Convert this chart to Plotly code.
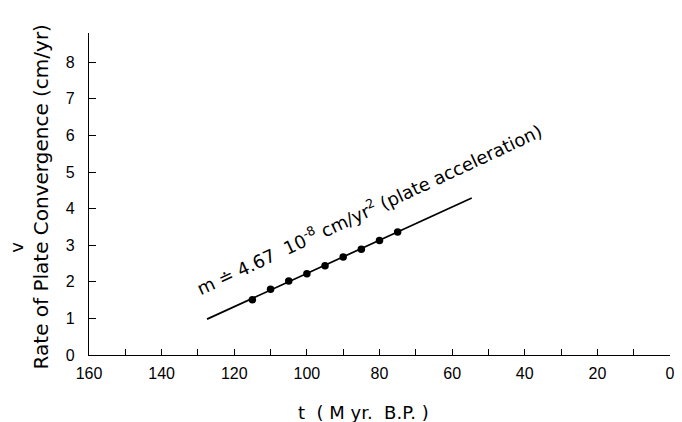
import plotly.graph_objects as go

# Data
t_points = [115, 110, 105, 100, 95, 90, 85, 80, 75]
v_points = [1.51, 1.80, 2.02, 2.22, 2.44, 2.68, 2.89, 3.13, 3.36]
t_line = [127.5, 54.6]
v_line = [0.98, 4.29]
x_tickvals = [160, 140, 120, 100, 80, 60, 40, 20, 0]
y_tickvals = [0, 1, 2, 3, 4, 5, 6, 7, 8]

FONT = "Liberation Sans"
FONT2 = "DejaVu Sans"

fig = go.Figure()
fig.add_trace(go.Scatter(x=t_line, y=v_line, mode="lines",
                         line=dict(color="black", width=1.7), showlegend=False))
fig.add_trace(go.Scatter(x=t_points, y=v_points, mode="markers",
                         marker=dict(color="black", size=7.5), showlegend=False))

fig.update_layout(
    width=682, height=422,
    margin=dict(l=89, r=7, t=33, b=67),
    paper_bgcolor="white", plot_bgcolor="white",
    font=dict(family=FONT, color="black", size=16),
    xaxis=dict(range=[160, 0], tickvals=x_tickvals, ticktext=[str(v) for v in x_tickvals],
               ticks="inside", ticklen=6, tickcolor="black", tickwidth=1.2,
               minor=dict(dtick=10, ticks="inside", ticklen=6, tickcolor="black", tickwidth=1.2),
               showline=True, linecolor="black", linewidth=1.4,
               showgrid=False, zeroline=False, ticklabelstandoff=4,
               tickfont=dict(size=16)),
    yaxis=dict(range=[0, 8.8], tickvals=y_tickvals,
               ticks="inside", ticklen=7, tickcolor="black", tickwidth=1.2,
               showline=True, linecolor="black", linewidth=1.4,
               showgrid=False, zeroline=False, ticklabelstandoff=10,
               tickfont=dict(size=16)),
)

fig.add_annotation(xref="paper", yref="paper", x=(41 - 89) / 586, y=(355 - 197) / 322,
                   text="Rate of Plate Convergence (cm/yr)", textangle=-90,
                   showarrow=False, font=dict(size=20, family=FONT2),
                   xanchor="center", yanchor="middle")
fig.add_annotation(xref="paper", yref="paper", x=(15 - 89) / 586, y=(355 - 247) / 322,
                   text="v", textangle=-90, showarrow=False, font=dict(size=18, family=FONT2),
                   xanchor="center", yanchor="middle")
fig.add_annotation(xref="paper", yref="paper", x=(366 - 89) / 586, y=(355 - 412) / 322,
                   text="t  ( M yr.  B.P. )", showarrow=False, font=dict(size=18, family=FONT2),
                   xanchor="center", yanchor="middle")
fig.add_annotation(x=83.0, y=3.98,
                   text="m ≐ 4.67  10<sup>-8</sup> cm/yr<sup>2</sup> (plate acceleration)",
                   textangle=-25, showarrow=False, font=dict(size=18, family=FONT2),
                   xanchor="center", yanchor="middle")

fig.write_html("out.html")
